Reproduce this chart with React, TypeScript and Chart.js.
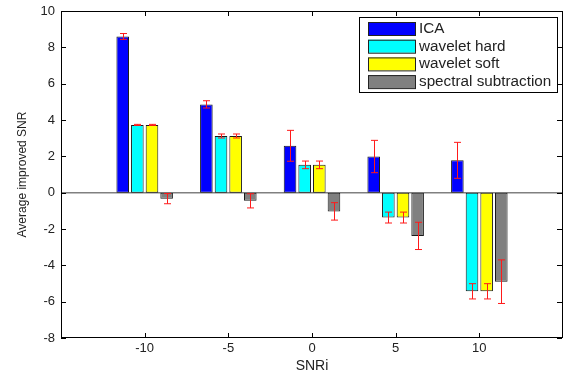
import React, { useEffect, useRef } from "react";
import { Chart, registerables } from "chart.js";

Chart.register(...registerables);

const categories = ["-10", "-5", "0", "5", "10"];
const seriesNames = ["ICA", "wavelet hard", "wavelet soft", "spectral subtraction"];
const seriesColors = ["#0000ff", "#00ffff", "#ffff00", "#808080"];

const icaValues = [8.6, 4.86, 2.58, 1.99, 1.78];
const icaErrors = [0.16, 0.2, 0.85, 0.89, 0.99];
const waveletHardValues = [3.73, 3.12, 1.53, -1.37, -5.43];
const waveletHardErrors = [0.03, 0.11, 0.21, 0.3, 0.42];
const waveletSoftValues = [3.73, 3.12, 1.53, -1.37, -5.43];
const waveletSoftErrors = [0.03, 0.11, 0.21, 0.3, 0.42];
const spectralValues = [-0.33, -0.45, -1.03, -2.38, -4.9];
const spectralErrors = [0.28, 0.39, 0.48, 0.75, 1.2];

const yTicksMin = -8;
const yTicksMax = 10;
const yTickStep = 2;

const FONT = "'Liberation Sans', Arial, sans-serif";

const allValues = [icaValues, waveletHardValues, waveletSoftValues, spectralValues];
const allErrors = [icaErrors, waveletHardErrors, waveletSoftErrors, spectralErrors];

// pad categories with empty slots on both sides (axis spans -15..15)
const labels = ["", ...categories, ""];

const decorPlugin = {
  id: "decor",
  beforeDatasetsDraw(chart: any) {
    const { ctx, chartArea, scales } = chart;
    const y0 = scales.y.getPixelForValue(0);
    ctx.save();
    ctx.strokeStyle = "#808080";
    ctx.lineWidth = 1.5;
    ctx.beginPath();
    ctx.moveTo(chartArea.left, y0);
    ctx.lineTo(chartArea.right, y0);
    ctx.stroke();
    ctx.restore();
  },
  afterDatasetsDraw(chart: any) {
    const { ctx, scales } = chart;
    ctx.save();
    ctx.strokeStyle = "#ff1a1a";
    ctx.lineWidth = 1;
    allValues.forEach((vals, di) => {
      const meta = chart.getDatasetMeta(di);
      vals.forEach((v, i) => {
        const el = meta.data[i + 1];
        if (!el) return;
        const e = allErrors[di][i];
        const x = Math.round(el.x) + 0.5;
        const yHi = scales.y.getPixelForValue(v + e);
        const yLo = scales.y.getPixelForValue(v - e);
        ctx.beginPath();
        ctx.moveTo(x, yHi);
        ctx.lineTo(x, yLo);
        ctx.moveTo(x - 3.5, yHi);
        ctx.lineTo(x + 3.5, yHi);
        ctx.moveTo(x - 3.5, yLo);
        ctx.lineTo(x + 3.5, yLo);
        ctx.stroke();
      });
    });
    ctx.restore();
  },
  afterDraw(chart: any) {
    const { ctx, chartArea, scales, width } = chart;
    const { left, top, bottom } = chartArea;
    const right = Math.min(chartArea.right, width - 1);
    ctx.save();
    ctx.strokeStyle = "#000";
    ctx.lineWidth = 1;
    ctx.strokeRect(Math.round(left) + 0.5, Math.round(top) + 0.5, Math.round(right - left), Math.round(bottom - top) - 1);
    // inward ticks
    const tl = 5;
    ctx.beginPath();
    for (let v = yTicksMin; v <= yTicksMax; v += yTickStep) {
      const py = Math.round(scales.y.getPixelForValue(v)) + 0.5;
      ctx.moveTo(left, py);
      ctx.lineTo(left + tl, py);
      ctx.moveTo(right, py);
      ctx.lineTo(right - tl, py);
    }
    for (let i = 1; i <= categories.length; i++) {
      const px = Math.round(scales.x.getPixelForValue(i)) + 0.5;
      ctx.moveTo(px, bottom);
      ctx.lineTo(px, bottom - tl);
      ctx.moveTo(px, top);
      ctx.lineTo(px, top + tl);
    }
    ctx.stroke();

    // legend
    const lx = right - 203;
    const ly = top + 6;
    const lw = 198;
    const lh = 75;
    ctx.fillStyle = "#fff";
    ctx.fillRect(lx, ly, lw, lh);
    ctx.strokeStyle = "#000";
    ctx.strokeRect(lx + 0.5, ly + 0.5, lw, lh);
    ctx.font = `14px ${FONT}`;
    ctx.textBaseline = "middle";
    ctx.textAlign = "left";
    seriesNames.forEach((name, i) => {
      const sy = ly + 5 + i * 17.7;
      ctx.fillStyle = seriesColors[i];
      ctx.fillRect(lx + 9, sy, 47, 13);
      ctx.strokeStyle = "#222";
      ctx.strokeRect(lx + 9.5, sy + 0.5, 47, 13);
      ctx.fillStyle = "#222";
      ctx.save();
      ctx.translate(lx + 60, sy + 7);
      ctx.scale(1.09, 1);
      ctx.fillText(name, 0, 0);
      ctx.restore();
    });
    ctx.restore();
  },
};

export default function App() {
  const ref = useRef<HTMLCanvasElement>(null);
  useEffect(() => {
    if (!ref.current) return;
    const chart = new Chart(ref.current, {
      type: "bar",
      data: {
        labels,
        datasets: allValues.map((vals, i) => ({
          label: seriesNames[i],
          data: [null, ...vals, null],
          backgroundColor: seriesColors[i],
          borderColor: "#1a1a1a",
          borderWidth: 1,
          borderSkipped: false,
          categoryPercentage: 0.7,
          barPercentage: 0.86,
        })),
      },
      options: {
        animation: false,
        responsive: false,
        devicePixelRatio: 1,
        layout: { padding: { top: 11, right: 0, left: 0, bottom: 0 } },
        plugins: {
          legend: { display: false },
          tooltip: { enabled: false },
        },
        scales: {
          x: {
            type: "category",
            offset: false,
            grid: { display: false, drawTicks: false },
            border: { display: false },
            ticks: {
              color: "#222",
              font: { family: FONT, size: 13 },
              padding: 3,
              maxRotation: 0,
              autoSkip: false,
            },
            title: {
              display: true,
              text: "SNRi",
              color: "#222",
              font: { family: FONT, size: 14 },
              padding: { top: 0, bottom: 1 },
            },
            afterFit(scale: any) {
              scale.height = 38;
              scale.paddingLeft = 0;
              scale.paddingRight = 0;
            },
          },
          y: {
            min: yTicksMin,
            max: yTicksMax,
            grid: { display: false, drawTicks: false },
            border: { display: false },
            ticks: {
              stepSize: yTickStep,
              color: "#222",
              font: { family: FONT, size: 13 },
              padding: 6,
            },
            title: {
              display: true,
              text: "Average improved SNR",
              color: "#222",
              font: { family: FONT, size: 12 },
              padding: { top: 15, bottom: 0 },
            },
            afterFit(scale: any) {
              scale.width = 61;
              scale.paddingTop = 0;
              scale.paddingBottom = 0;
            },
          },
        },
      },
      plugins: [decorPlugin],
    });
    return () => chart.destroy();
  }, []);
  return (
    <div style={{ position: "fixed", left: 0, top: 0, width: 563, height: 376, background: "#fff" }}>
      <canvas ref={ref} width={563} height={376} />
    </div>
  );
}
